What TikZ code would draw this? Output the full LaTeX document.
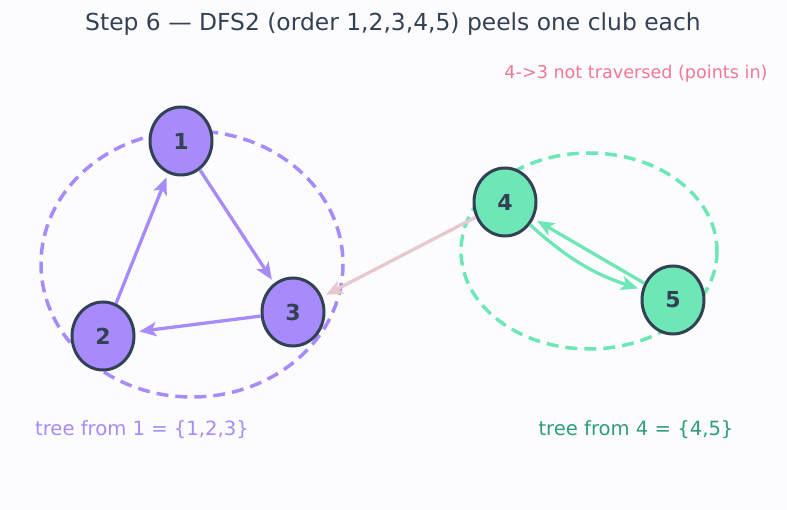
\documentclass[tikz,border=0pt]{standalone}
\usepackage{fontspec}
\setmainfont{DejaVu Sans}
\usetikzlibrary{shapes, arrows.meta}
\definecolor{paper}{HTML}{FCFCFF}
\definecolor{ink}{HTML}{334155}
\definecolor{violet}{HTML}{A78BFA}
\definecolor{mint}{HTML}{6EE7B7}
\definecolor{mintdark}{HTML}{2F9E78}
\definecolor{rose}{HTML}{F07891}
\definecolor{blush}{HTML}{E6C9CD}

\begin{document}
\begin{tikzpicture}[x=1pt, y=-1pt,
    main/.style = {draw=ink, line width=3pt, ellipse, inner sep=0pt,
      minimum width=62pt, minimum height=68pt, text=ink,
      font=\bfseries\fontsize{22}{22}\selectfont},
    club/.style = {line width=3.5pt, dash pattern=on 12pt off 7pt},
    edge/.style = {line width=3.3pt, -{Stealth[length=17pt, width=14pt, inset=4pt]}, shorten >=4pt}]
    \fill[paper] (0,0) rectangle (787,510);

    % clubs
    \draw[club, violet] (192,264) ellipse [x radius=151, y radius=133];
    \draw[club, mint] (589,251) ellipse [x radius=128, y radius=98];

    \node[main, fill=violet] at (181,141) (n1) {1};
    \node[main, fill=violet] at (103,336) (n2) {2};
    \node[main, fill=violet] at (293,312) (n3) {3};
    \node[main, fill=mint] at (505,202) (n4) {4};
    \node[main, fill=mint] at (673,300) (n5) {5};

    \draw [edge, violet] (n1) -- (n3);
    \draw [edge, violet] (n3) -- (n2);
    \draw [edge, violet] (n2) -- (n1);
    \draw [edge, mint] (n4) to[bend right=12] (n5);
    \draw [edge, mint] (n5) -- (n4);
    \draw [edge, blush] (n4) -- (n3);

    \node[text=ink, font=\fontsize{23.4}{23.4}\selectfont] at (393,24) (title)
      {Step 6 — DFS2 (order 1,2,3,4,5) peels one club each};
    \node[text=rose, font=\fontsize{17.6}{17.6}\selectfont] at (636,74) (note)
      {4->3 not traversed (points in)};
    \node[text=violet, font=\fontsize{19.6}{19.6}\selectfont] at (142,430) (tree1)
      {tree from 1 = \{1,2,3\}};
    \node[text=mintdark, font=\fontsize{19.6}{19.6}\selectfont] at (636,430) (tree4)
      {tree from 4 = \{4,5\}};
\end{tikzpicture}
\end{document}
